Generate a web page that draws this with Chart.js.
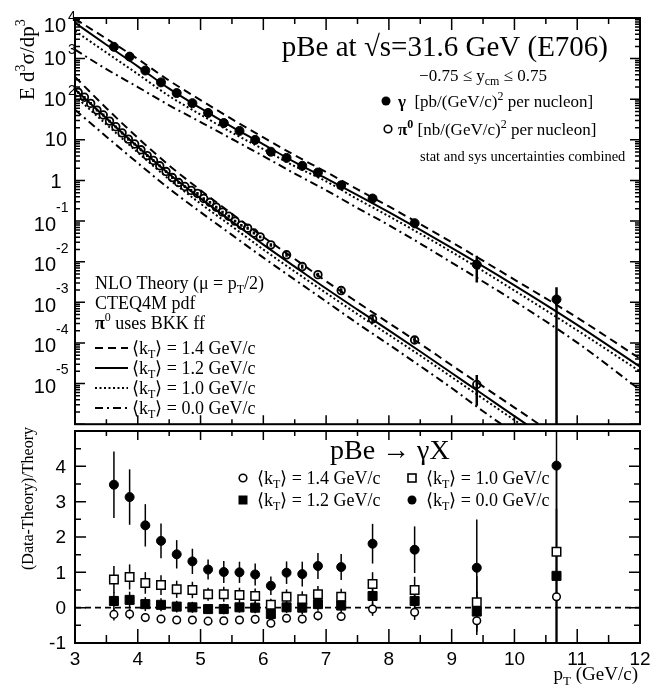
<!DOCTYPE html>
<html>
<head>
<meta charset="utf-8">
<script src="https://cdn.jsdelivr.net/npm/chart.js@4.4.0/dist/chart.umd.min.js"></script>
<style>
  html, body { margin: 0; padding: 0; background: #fff; }
  #wrap { position: relative; width: 668px; height: 689px; }
  canvas { position: absolute; left: 0; }
  #top { top: 0; }
  #bot { top: 400px; }
</style>
</head>
<body>
<div id="wrap">
  <canvas id="top" width="668" height="430"></canvas>
  <canvas id="bot" width="668" height="289"></canvas>
</div>
<script>
// --- E706 data ---
var gammaPt = [3.62, 3.87, 4.12, 4.37, 4.62, 4.87, 5.12, 5.37, 5.62, 5.87, 6.12, 6.37, 6.62, 6.87, 7.24, 7.74, 8.41, 9.40, 10.67];
var gammaXsec = [1950, 1120, 510, 260, 142, 80, 46, 26, 16.6, 10, 5.1, 3.6, 2.3, 1.57, 0.76, 0.36, 0.089, 0.0085, 0.00118];
var gammaRelErr = [0.21, 0.19, 0.18, 0.17, 0.16, 0.155, 0.135, 0.155, 0.15, 0.16, 0.16, 0.16, 0.18, 0.17, 0.17, 0.20, 0.25, 0.64, 1.0];

var pi0Pt = [3.05, 3.15, 3.25, 3.35, 3.45, 3.55, 3.65, 3.75, 3.85, 3.95,
  4.05, 4.15, 4.25, 4.35, 4.45, 4.55, 4.65, 4.75, 4.85, 4.95,
  5.05, 5.15, 5.25, 5.35, 5.45, 5.55, 5.65, 5.75, 5.85, 5.95,
  6.12, 6.37, 6.62, 6.87, 7.24, 7.74, 8.41, 9.40];
var pi0Xsec = [148, 112, 79, 54, 41, 29, 21, 14.8, 10.4, 7.9,
  5.7, 4.1, 3.1, 2.3, 1.66, 1.18, 0.89, 0.71, 0.57, 0.48,
  0.36, 0.29, 0.22, 0.166, 0.132, 0.10, 0.079, 0.067, 0.051, 0.041,
  0.026, 0.0148, 0.0076, 0.0048, 0.00195, 0.00039, 0.000118, 0.0000095];
var pi0RelErr = [0.08, 0.08, 0.08, 0.08, 0.08, 0.08, 0.08, 0.08, 0.08, 0.08,
  0.08, 0.08, 0.08, 0.08, 0.08, 0.08, 0.08, 0.08, 0.08, 0.08,
  0.08, 0.08, 0.08, 0.08, 0.08, 0.08, 0.08, 0.08, 0.08, 0.08,
  0.10, 0.10, 0.12, 0.12, 0.14, 0.18, 0.20, 0.70];

// NLO theory curves, <kT> = 1.4 / 1.2 / 1.0 / 0.0 GeV/c
var gammaCurvePt = [3.0, 3.5, 4.0, 4.5, 5.0, 5.5, 6.0, 6.5, 7.0, 7.5, 8.0, 9.0, 10.0, 11.0, 12.0];
var gammaKt14 = [9550, 3090, 977, 288, 95.5, 32.4, 11.5, 4.17, 1.62, 0.603, 0.229, 0.0302, 0.00363, 4.2e-4, 4.1e-5];
var gammaKt12 = [7590, 2190, 646, 182, 60.3, 20.9, 7.76, 2.82, 1.12, 0.437, 0.166, 0.0219, 0.00263, 2.8e-4, 2.6e-5];
var gammaKt10 = [4790, 1410, 417, 120, 41.7, 15.1, 5.89, 2.24, 0.955, 0.347, 0.132, 0.0174, 0.00195, 2.05e-4, 2.0e-5];
var gammaKt00 = [1660, 550, 200, 70.8, 27.5, 10.5, 3.98, 1.48, 0.575, 0.209, 0.0794, 0.00955, 0.00107, 1.02e-4, 7.0e-6];

var pi0CurvePt = [3.0, 3.5, 4.0, 4.5, 5.0, 5.5, 6.0, 6.5, 7.0, 7.5, 8.0, 8.5, 9.0, 9.5, 10.0, 11.0, 12.0];
var pi0Kt14 = [355, 60.3, 11.2, 2.34, 0.575, 0.151, 0.0407, 0.0117, 0.00331, 0.001, 3.09e-4, 9.55e-5, 2.82e-5, 8.51e-6, 2.57e-6, 2.29e-7, 2.0e-8];
var pi0Kt12 = [174, 33.9, 6.76, 1.45, 0.363, 0.0977, 0.0263, 0.00759, 0.00219, 6.61e-4, 2.04e-4, 6.17e-5, 1.82e-5, 5.37e-6, 1.58e-6, 1.41e-7, 1.26e-8];
var pi0Kt10 = [120, 24, 4.9, 1.07, 0.269, 0.0741, 0.02, 0.00575, 0.0017, 5.13e-4, 1.58e-4, 4.9e-5, 1.45e-5, 4.27e-6, 1.26e-6, 1.12e-7, 1.0e-8];
var pi0Kt00 = [55, 12, 2.69, 0.631, 0.166, 0.0457, 0.0126, 0.00363, 0.00105, 3.02e-4, 9.12e-5, 2.69e-5, 7.76e-6, 2.09e-6, 6.0e-7, 5.6e-8, 5.0e-9];

// (Data-Theory)/Theory for the photons
var ratioKt14 = [-0.19, -0.18, -0.28, -0.32, -0.35, -0.35, -0.38, -0.37, -0.35, -0.33, -0.44, -0.30, -0.32, -0.23, -0.25, -0.04, -0.13, -0.37, 0.31];
var ratioKt12 = [0.19, 0.22, 0.10, 0.08, 0.03, 0.01, -0.04, -0.04, 0.01, 0.0, -0.18, 0.01, 0.0, 0.10, 0.06, 0.33, 0.19, -0.11, 0.90];
var ratioKt10 = [0.80, 0.87, 0.70, 0.64, 0.52, 0.50, 0.38, 0.38, 0.36, 0.33, 0.08, 0.31, 0.24, 0.38, 0.31, 0.67, 0.50, 0.15, 1.58];
var ratioKt00 = [3.48, 3.13, 2.33, 1.89, 1.51, 1.31, 1.08, 1.01, 1.00, 0.94, 0.62, 0.99, 0.95, 1.18, 1.15, 1.81, 1.64, 1.13, 4.02];

var SERIF = '"Liberation Serif", "Times New Roman", serif';
var SANS = '"Liberation Sans", Arial, sans-serif';
var DASHED = [8, 5], DOTTED = [2, 2.5], DASHDOT = [8, 4, 2, 4];

function pts(xs, ys) {
  return xs.map(function (x, i) { return { x: x, y: ys[i] }; });
}

function curve(xs, ys, dash) {
  return {
    data: pts(xs, ys), showLine: true, pointRadius: 0, borderColor: '#000',
    borderWidth: 2, borderDash: dash, cubicInterpolationMode: 'monotone', order: 2
  };
}

// text with super/subscripts: parts = [text, 1 sup / -1 sub / 0, bold]
function rich(ctx, x, y, parts, size, family, align) {
  var small = Math.round(size * 0.68);
  function setFont(p) {
    ctx.font = (p[2] ? 'bold ' : '') + (p[1] ? small : size) + 'px ' + family;
  }
  var w = 0;
  parts.forEach(function (p) { setFont(p); w += ctx.measureText(p[0]).width; });
  var cx = align === 'right' ? x - w : (align === 'center' ? x - w / 2 : x);
  ctx.textAlign = 'left';
  ctx.textBaseline = 'alphabetic';
  ctx.fillStyle = '#000';
  parts.forEach(function (p) {
    setFont(p);
    var dy = p[1] === 1 ? -size * 0.42 : (p[1] === -1 ? size * 0.24 : 0);
    ctx.fillText(p[0], cx, y + dy);
    cx += ctx.measureText(p[0]).width;
  });
  return w;
}

function marker(ctx, kind, x, y) {
  ctx.save();
  ctx.lineWidth = 1.6; ctx.strokeStyle = '#000'; ctx.fillStyle = '#000';
  ctx.setLineDash([]);
  if (kind === 'fc') { ctx.beginPath(); ctx.arc(x, y, 4.5, 0, 2 * Math.PI); ctx.fill(); }
  if (kind === 'oc') { ctx.beginPath(); ctx.arc(x, y, 3.8, 0, 2 * Math.PI); ctx.stroke(); }
  if (kind === 'fs') ctx.fillRect(x - 4.5, y - 4.5, 9, 9);
  if (kind === 'os') ctx.strokeRect(x - 4, y - 4, 8, 8);
  ctx.restore();
}

function sampleLine(ctx, x0, x1, y, dash) {
  ctx.save();
  ctx.setLineDash(dash); ctx.lineWidth = 2; ctx.strokeStyle = '#000';
  ctx.beginPath(); ctx.moveTo(x0, y); ctx.lineTo(x1, y); ctx.stroke();
  ctx.restore();
}

function frame(chart) {
  var a = chart.chartArea, ctx = chart.ctx;
  ctx.save();
  ctx.strokeStyle = '#000'; ctx.lineWidth = 2;
  ctx.strokeRect(a.left, a.top, a.right - a.left, a.bottom - a.top);
  ctx.restore();
}

function xTicks(chart, vals, lenTop, lenBot) {
  var a = chart.chartArea, sx = chart.scales.x, ctx = chart.ctx;
  ctx.save(); ctx.strokeStyle = '#000'; ctx.lineWidth = 1.5;
  ctx.beginPath();
  vals.forEach(function (v) {
    var px = sx.getPixelForValue(v);
    ctx.moveTo(px, a.top); ctx.lineTo(px, a.top + lenTop);
    ctx.moveTo(px, a.bottom); ctx.lineTo(px, a.bottom - lenBot);
  });
  ctx.stroke(); ctx.restore();
}

function yTicks(chart, vals, len) {
  var a = chart.chartArea, sy = chart.scales.y, ctx = chart.ctx;
  ctx.save(); ctx.strokeStyle = '#000'; ctx.lineWidth = 1.5;
  ctx.beginPath();
  vals.forEach(function (v) {
    var py = sy.getPixelForValue(v);
    ctx.moveTo(a.left, py); ctx.lineTo(a.left + len, py);
    ctx.moveTo(a.right, py); ctx.lineTo(a.right - len, py);
  });
  ctx.stroke(); ctx.restore();
}

function errBars(chart, xs, ys, lo, hi, width) {
  var a = chart.chartArea, sx = chart.scales.x, sy = chart.scales.y, ctx = chart.ctx;
  ctx.save();
  ctx.beginPath(); ctx.rect(a.left, a.top, a.right - a.left, a.bottom - a.top); ctx.clip();
  ctx.strokeStyle = '#000'; ctx.lineWidth = width;
  xs.forEach(function (x, i) {
    var px = sx.getPixelForValue(x);
    var y0 = lo[i] > 0 || sy.type !== 'logarithmic' ? sy.getPixelForValue(lo[i]) : a.bottom + 5;
    ctx.beginPath(); ctx.moveTo(px, y0); ctx.lineTo(px, sy.getPixelForValue(hi[i])); ctx.stroke();
  });
  ctx.restore();
}

var kT = function (v) { return [['\u27E8k', 0], ['T', -1], ['\u27E9 = ' + v + ' GeV/c', 0]]; };

var range = function (a, b, s) { var r = []; for (var v = a; v <= b + 1e-9; v += s) r.push(+v.toFixed(3)); return r; };

// ---------------- top panel ----------------
var topDecor = {
  id: 'topDecor',
  beforeDatasetsDraw: function (chart) {
    errBars(chart, gammaPt, gammaXsec,
      gammaXsec.map(function (v, i) { return v * (1 - gammaRelErr[i]); }),
      gammaXsec.map(function (v, i) { return v * (1 + gammaRelErr[i]); }), 2.5);
    errBars(chart, pi0Pt, pi0Xsec,
      pi0Xsec.map(function (v, i) { return v * (1 - pi0RelErr[i]); }),
      pi0Xsec.map(function (v, i) { return v * (1 + pi0RelErr[i]); }), 2.5);
  },
  afterDraw: function (chart) {
    var ctx = chart.ctx, sy = chart.scales.y;
    frame(chart);
    xTicks(chart, range(3, 12, 1), 12, 9);
    xTicks(chart, range(3.5, 11.5, 1), 6, 5);
    var majors = [], minors = [];
    for (var e = -6; e <= 4; e++) {
      majors.push(Math.pow(10, e));
      if (e < 4) for (var m = 2; m <= 9; m++) minors.push(m * Math.pow(10, e));
    }
    yTicks(chart, majors, 10);
    yTicks(chart, minors, 5);

    // decade labels
    ctx.save();
    ctx.fillStyle = '#000';
    ctx.textBaseline = 'middle';
    for (e = -5; e <= 4; e++) {
      var py = sy.getPixelForValue(Math.pow(10, e));
      if (e === 4) py += 7;
      ctx.font = '20px ' + SANS;
      if (e === 0) { ctx.textAlign = 'center'; ctx.fillText('1', 56, py + 2); continue; }
      if (e === 1) { ctx.textAlign = 'right'; ctx.fillText('10', 67, py + 1); continue; }
      if (e > 1) {
        ctx.textAlign = 'right'; ctx.fillText('10', 66, py + 1);
        ctx.font = '14px ' + SANS; ctx.textAlign = 'left'; ctx.fillText(String(e), 68, py - 8);
      } else {
        ctx.textAlign = 'right'; ctx.fillText('10', 56, py + 4);
        ctx.font = '14px ' + SANS; ctx.textAlign = 'left'; ctx.fillText(String(e), 56, py - 13);
      }
    }
    ctx.restore();

    // axis title
    ctx.save();
    ctx.translate(34, 100); ctx.rotate(-Math.PI / 2);
    rich(ctx, 0, 0, [['E d', 0], ['3', 1], ['\u03C3/dp', 0], ['3', 1]], 21, SERIF, 'left');
    ctx.restore();

    // header block
    rich(ctx, 608, 56, [['pBe at \u221As=31.6 GeV (E706)', 0]], 29, SERIF, 'right');
    rich(ctx, 483, 81, [['\u22120.75 \u2264 y', 0], ['cm', -1], [' \u2264 0.75', 0]], 17, SERIF, 'center');
    marker(ctx, 'fc', 386, 101);
    rich(ctx, 398, 107, [['\u03B3', 0, true], ['  [pb/(GeV/c)', 0], ['2', 1], [' per nucleon]', 0]], 17, SERIF, 'left');
    marker(ctx, 'oc', 388, 129);
    rich(ctx, 398, 135, [['\u03C0', 0, true], ['0', 1, true], [' [nb/(GeV/c)', 0], ['2', 1], [' per nucleon]', 0]], 17, SERIF, 'left');
    rich(ctx, 420, 161, [['stat and sys uncertainties combined', 0]], 14.5, SERIF, 'left');

    // theory legend
    rich(ctx, 95, 289, [['NLO Theory (\u03BC = p', 0], ['T', -1], ['/2)', 0]], 18, SERIF, 'left');
    rich(ctx, 95, 309, [['CTEQ4M pdf', 0]], 18, SERIF, 'left');
    rich(ctx, 95, 329, [['\u03C0', 0, true], ['0', 1], [' uses BKK ff', 0]], 18, SERIF, 'left');
    var rows = [['1.4', DASHED], ['1.2', []], ['1.0', DOTTED], ['0.0', DASHDOT]];
    rows.forEach(function (r, i) {
      var y = 348 + i * 20;
      sampleLine(ctx, 95, 128, y, r[1]);
      rich(ctx, 132, y + 6, kT(r[0]), 18, SERIF, 'left');
    });
  }
};

new Chart(document.getElementById('top'), {
  type: 'line',
  data: {
    datasets: [
      {
        data: pts(gammaPt, gammaXsec), showLine: false, pointStyle: 'circle', pointRadius: 4.5,
        pointBackgroundColor: '#000', pointBorderColor: '#000', order: 0
      },
      {
        data: pts(pi0Pt, pi0Xsec), showLine: false, pointStyle: 'circle', pointRadius: 3.8,
        pointBorderWidth: 1.8, pointBackgroundColor: 'rgba(0,0,0,0)', pointBorderColor: '#000', order: 0
      },
      curve(gammaCurvePt, gammaKt14, DASHED),
      curve(gammaCurvePt, gammaKt12, []),
      curve(gammaCurvePt, gammaKt10, DOTTED),
      curve(gammaCurvePt, gammaKt00, DASHDOT),
      curve(pi0CurvePt, pi0Kt14, DASHED),
      curve(pi0CurvePt, pi0Kt12, []),
      curve(pi0CurvePt, pi0Kt10, DOTTED),
      curve(pi0CurvePt, pi0Kt00, DASHDOT)
    ]
  },
  options: {
    responsive: false,
    animation: false,
    layout: { padding: { left: 75, right: 28, top: 18, bottom: 3 } },
    scales: {
      x: { type: 'linear', min: 3, max: 12, display: false },
      y: { type: 'logarithmic', min: 1e-6, max: 1e4, display: false }
    },
    plugins: { legend: { display: false }, tooltip: { enabled: false } }
  },
  plugins: [topDecor]
});

// ---------------- ratio panel ----------------
var OFF = 400;
var ratios = [ratioKt14, ratioKt12, ratioKt10, ratioKt00];

var botDecor = {
  id: 'botDecor',
  beforeDatasetsDraw: function (chart) {
    ratios.forEach(function (r) {
      errBars(chart, gammaPt, r,
        r.map(function (v, i) { return v - gammaRelErr[i] * (1 + v); }),
        r.map(function (v, i) { return v + gammaRelErr[i] * (1 + v); }), 1.5);
    });
  },
  afterDraw: function (chart) {
    var ctx = chart.ctx, sx = chart.scales.x, sy = chart.scales.y;
    frame(chart);
    xTicks(chart, range(3, 12, 1), 9, 14);
    xTicks(chart, range(3.5, 11.5, 1), 5, 8);
    yTicks(chart, range(-1, 5, 1), 11);
    yTicks(chart, range(-0.5, 4.5, 1), 6);

    ctx.save();
    ctx.fillStyle = '#000';
    ctx.font = '19px ' + SANS;
    ctx.textAlign = 'center'; ctx.textBaseline = 'alphabetic';
    range(3, 12, 1).forEach(function (v) { ctx.fillText(String(v), sx.getPixelForValue(v), 665 - OFF); });
    ctx.textAlign = 'right'; ctx.textBaseline = 'middle';
    range(-1, 4, 1).forEach(function (v) { ctx.fillText(String(v), 66, sy.getPixelForValue(v) + 1); });
    ctx.restore();

    rich(ctx, 638, 680 - OFF, [['p', 0], ['T', -1], [' (GeV/c)', 0]], 19, SERIF, 'right');

    ctx.save();
    ctx.translate(33, 570 - OFF); ctx.rotate(-Math.PI / 2);
    rich(ctx, 0, 0, [['(Data-Theory)/Theory', 0]], 16, SERIF, 'left');
    ctx.restore();

    rich(ctx, 330, 459 - OFF, [['pBe \u2192 \u03B3X', 0]], 28, SERIF, 'left');
    marker(ctx, 'oc', 243, 478 - OFF);
    rich(ctx, 257, 484 - OFF, kT('1.4'), 18, SERIF, 'left');
    marker(ctx, 'fs', 243, 500 - OFF);
    rich(ctx, 257, 506 - OFF, kT('1.2'), 18, SERIF, 'left');
    marker(ctx, 'os', 412, 478 - OFF);
    rich(ctx, 426, 484 - OFF, kT('1.0'), 18, SERIF, 'left');
    marker(ctx, 'fc', 412, 500 - OFF);
    rich(ctx, 426, 506 - OFF, kT('0.0'), 18, SERIF, 'left');
  }
};

new Chart(document.getElementById('bot'), {
  type: 'line',
  data: {
    datasets: [
      {
        data: pts(gammaPt, ratioKt14), showLine: false, pointStyle: 'circle', pointRadius: 3.8,
        pointBorderWidth: 1.5, pointBackgroundColor: '#fff', pointBorderColor: '#000', order: 0
      },
      {
        data: pts(gammaPt, ratioKt12), showLine: false, pointStyle: 'rect', pointRadius: 6.4,
        pointBackgroundColor: '#000', pointBorderColor: '#000', order: 0
      },
      {
        data: pts(gammaPt, ratioKt10), showLine: false, pointStyle: 'rect', pointRadius: 6,
        pointBorderWidth: 1.5, pointBackgroundColor: '#fff', pointBorderColor: '#000', order: 0
      },
      {
        data: pts(gammaPt, ratioKt00), showLine: false, pointStyle: 'circle', pointRadius: 4.5,
        pointBackgroundColor: '#000', pointBorderColor: '#000', order: 0
      },
      {
        data: [{ x: 3, y: 0 }, { x: 12, y: 0 }], showLine: true, pointRadius: 0,
        borderColor: '#000', borderWidth: 1.6, borderDash: [6, 4], order: 3
      }
    ]
  },
  options: {
    responsive: false,
    animation: false,
    layout: { padding: { left: 75, right: 28, top: 31, bottom: 46 } },
    scales: {
      x: { type: 'linear', min: 3, max: 12, display: false },
      y: { type: 'linear', min: -1, max: 5, display: false }
    },
    plugins: { legend: { display: false }, tooltip: { enabled: false } }
  },
  plugins: [botDecor]
});
</script>
</body>
</html>
